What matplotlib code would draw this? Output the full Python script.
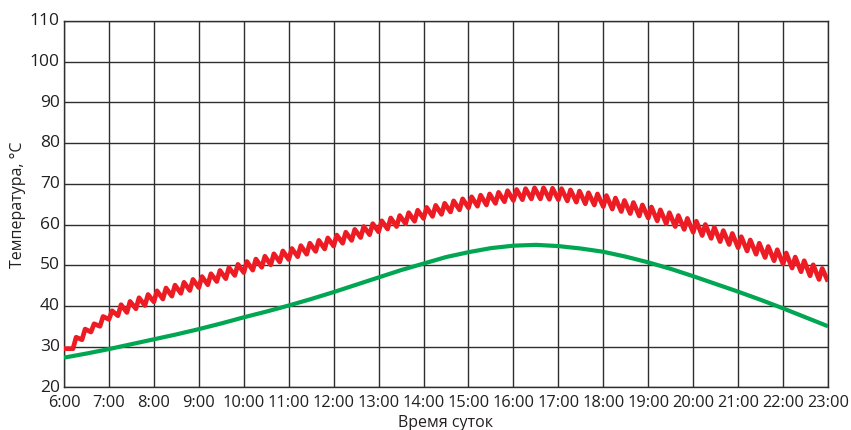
import matplotlib.pyplot as plt
import matplotlib.transforms as mtransforms
import numpy as np

plt.rcParams['font.family'] = ['Open Sans', 'DejaVu Sans']

# hourly ticks
hours = list(range(6, 24))
hour_labels = [f"{h}:00" for h in hours]

green_time = [6, 6.5, 7, 7.5, 8, 8.5, 9, 9.5, 10, 10.5, 11, 11.5, 12, 12.5,
              13, 13.5, 14, 14.5, 15, 15.5, 16, 16.5, 17, 17.5, 18, 18.5,
              19, 19.5, 20, 20.5, 21, 21.5, 22, 22.5, 23]
green_temp = [27.3, 28.3, 29.4, 30.6, 31.8, 33.0, 34.3, 35.7, 37.2, 38.6,
              40.1, 41.7, 43.4, 45.2, 47.0, 48.8, 50.4, 52.0, 53.2, 54.2,
              54.8, 55.0, 54.7, 54.1, 53.3, 52.1, 50.7, 49.1, 47.3, 45.4,
              43.5, 41.5, 39.4, 37.2, 35.0]

# red sawtooth: start level, then trough/peak of every 12-minute tooth
red_start = 29.5
red_end = 46.0
tooth_time = np.round(np.arange(6.2, 22.9, 0.2), 1)
red_trough = [29.5, 31.7, 33.6, 35.0, 36.7,
              37.6, 38.4, 39.3, 40.1, 41.0, 41.7, 42.4, 43.1, 43.8, 44.5,
              45.2, 46.0, 46.7, 47.5, 48.2, 48.8, 49.5, 50.1, 50.8, 51.4,
              52.1, 52.7, 53.4, 54.0, 54.7, 55.4, 56.1, 56.8, 57.5, 58.2,
              58.9, 59.5, 60.2, 60.8, 61.5, 62.0, 62.5, 63.1, 63.6, 64.1,
              64.5, 64.8, 65.2, 65.6, 65.9, 66.1, 66.3, 66.3, 66.2, 66.1,
              65.8, 65.5, 65.1, 64.8, 64.4, 63.8, 63.2, 62.7, 62.1, 61.6,
              60.9, 60.2, 59.5, 58.8, 58.1, 57.3, 56.6, 55.8, 55.1, 54.3,
              53.5, 52.7, 51.9, 51.1, 50.3, 49.3, 48.4, 47.4, 46.5]
red_peak = [32.3, 34.3, 35.6, 37.4, 38.8,
            40.3, 41.1, 42.0, 42.8, 43.7, 44.4, 45.1, 45.8, 46.5, 47.2,
            47.9, 48.7, 49.4, 50.2, 50.9, 51.5, 52.2, 52.8, 53.5, 54.1,
            54.8, 55.4, 56.1, 56.7, 57.4, 58.1, 58.8, 59.5, 60.2, 60.9,
            61.6, 62.2, 62.9, 63.5, 64.2, 64.7, 65.2, 65.8, 66.3, 66.8,
            67.2, 67.5, 67.9, 68.3, 68.6, 68.8, 69.0, 69.0, 68.9, 68.8,
            68.5, 68.2, 67.8, 67.5, 67.1, 66.5, 65.9, 65.4, 64.8, 64.3,
            63.6, 62.9, 62.2, 61.5, 60.8, 60.0, 59.3, 58.5, 57.8, 57.0,
            56.2, 55.4, 54.6, 53.8, 53.0, 52.0, 51.1, 50.1, 49.2]

red_x = [6.0]
red_y = [red_start]
for t, lo, hi in zip(tooth_time, red_trough, red_peak):
    red_x += [t, t + 0.07]
    red_y += [lo, hi]
red_x.append(23.0)
red_y.append(red_end)

fig = plt.figure(figsize=(8.51, 4.31), dpi=100)
ax = fig.add_axes([0.0752, 0.099, 0.8978, 0.85])

ax.plot(green_time, green_temp, color='#00a651', lw=3.0, solid_capstyle='butt', zorder=3)
ax.plot(red_x, red_y, color='#ed1c24', lw=3.4, solid_joinstyle='round',
        solid_capstyle='butt', zorder=4)

ax.set_xlim(6, 23)
ax.set_ylim(20, 110)
ax.set_xticks(hours)
ax.set_xticklabels(hour_labels)
ax.set_yticks(range(20, 111, 10))
ax.grid(True, color='#2e2e2e', lw=1.0)
ax.set_axisbelow(True)
ax.tick_params(length=0, colors='#231f20')
ax.tick_params(axis='x', labelsize=11.8, pad=5)
ax.tick_params(axis='y', labelsize=12.5, pad=3)
for s in ax.spines.values():
    s.set_color('#2e2e2e')
    s.set_linewidth(1.0)

# y labels sit slightly above their grid lines, as in the original
shift = mtransforms.ScaledTranslation(0, 2 / 72, fig.dpi_scale_trans)
for lbl in ax.get_yticklabels():
    lbl.set_transform(lbl.get_transform() + shift)

ax.set_xlabel('Время суток', fontsize=11.5, color='#231f20', labelpad=3)
ax.set_ylabel('Температура, °С', fontsize=11.5, color='#231f20', labelpad=3)

fig.savefig('out.png', dpi=100)
